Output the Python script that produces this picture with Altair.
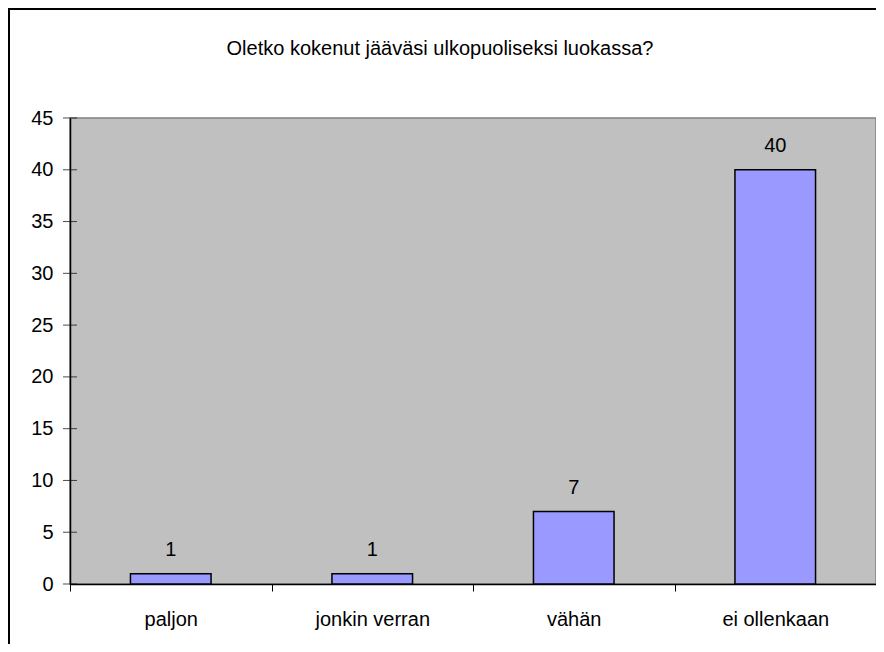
import altair as alt
import pandas as pd

categories = ["paljon", "jonkin verran", "vähän", "ei ollenkaan"]
counts = [1, 1, 7, 40]
y_ticks = [0, 5, 10, 15, 20, 25, 30, 35, 40, 45]
title_text = "Oletko kokenut jääväsi ulkopuoliseksi luokassa?"

FONT = "Liberation Sans"
FS = 20

df = pd.DataFrame({"cat": categories, "n": counts})
ticks_df = pd.DataFrame({"t": y_ticks})
one = pd.DataFrame({"title": [title_text]})

xscale = alt.Scale(domain=categories, paddingInner=0, paddingOuter=0)
yscale = alt.Scale(domain=[0, 45], nice=False, zero=True)

xenc = alt.X(
    "cat:N", sort=categories, scale=xscale,
    axis=alt.Axis(title=None, labelAngle=0, labelFont=FONT, labelFontSize=FS,
                  labelColor="black", labelPadding=18, tickSize=7,
                  tickColor="black", domainColor="black", domainWidth=1.5,
                  tickBand="extent", labelBaseline="top"),
)
yenc = alt.Y(
    "n:Q", scale=yscale,
    axis=alt.Axis(title=None, values=y_ticks, grid=False, ticks=False, tickSize=0,
                  labelPadding=17, labelFont=FONT, labelFontSize=FS,
                  labelColor="black", domainColor="black", domainWidth=1.5),
)

bars = alt.Chart(df).mark_bar(
    color="#9999FF", stroke="black", strokeWidth=1.5,
    width=alt.RelativeBandSize(0.4)
).encode(x=xenc, y=yenc)

labels = alt.Chart(df).mark_text(
    baseline="alphabetic", dy=-18, font=FONT, fontSize=FS, color="black"
).encode(x=alt.X("cat:N", sort=categories, scale=xscale),
         y=alt.Y("n:Q", scale=yscale), text="n:Q")

yticks = alt.Chart(ticks_df).mark_tick(
    orient="horizontal", size=14, thickness=1, color="black"
).encode(y=alt.Y("t:Q", scale=yscale), x=alt.value(0))

title = alt.Chart(one).mark_text(
    font=FONT, fontSize=FS, color="black", baseline="alphabetic", align="center"
).encode(text="title:N", x=alt.value(370), y=alt.value(-63))

frame = alt.Chart(one).mark_rect(
    fillOpacity=0, stroke="black", strokeWidth=2
).encode(x=alt.value(-61), x2=alt.value(900), y=alt.value(-109), y2=alt.value(700))

chart = alt.layer(frame, bars, labels, yticks, title).properties(
    width=806, height=466,
    autosize=alt.AutoSizeParams(type="none"),
    padding={"left": 62, "top": 110, "right": 0, "bottom": 60},
    background="white",
).configure_view(
    fill="#C0C0C0", stroke="#808080", strokeWidth=1.5
)

chart.save("out.html", embed_options={"renderer": "svg", "actions": False})
